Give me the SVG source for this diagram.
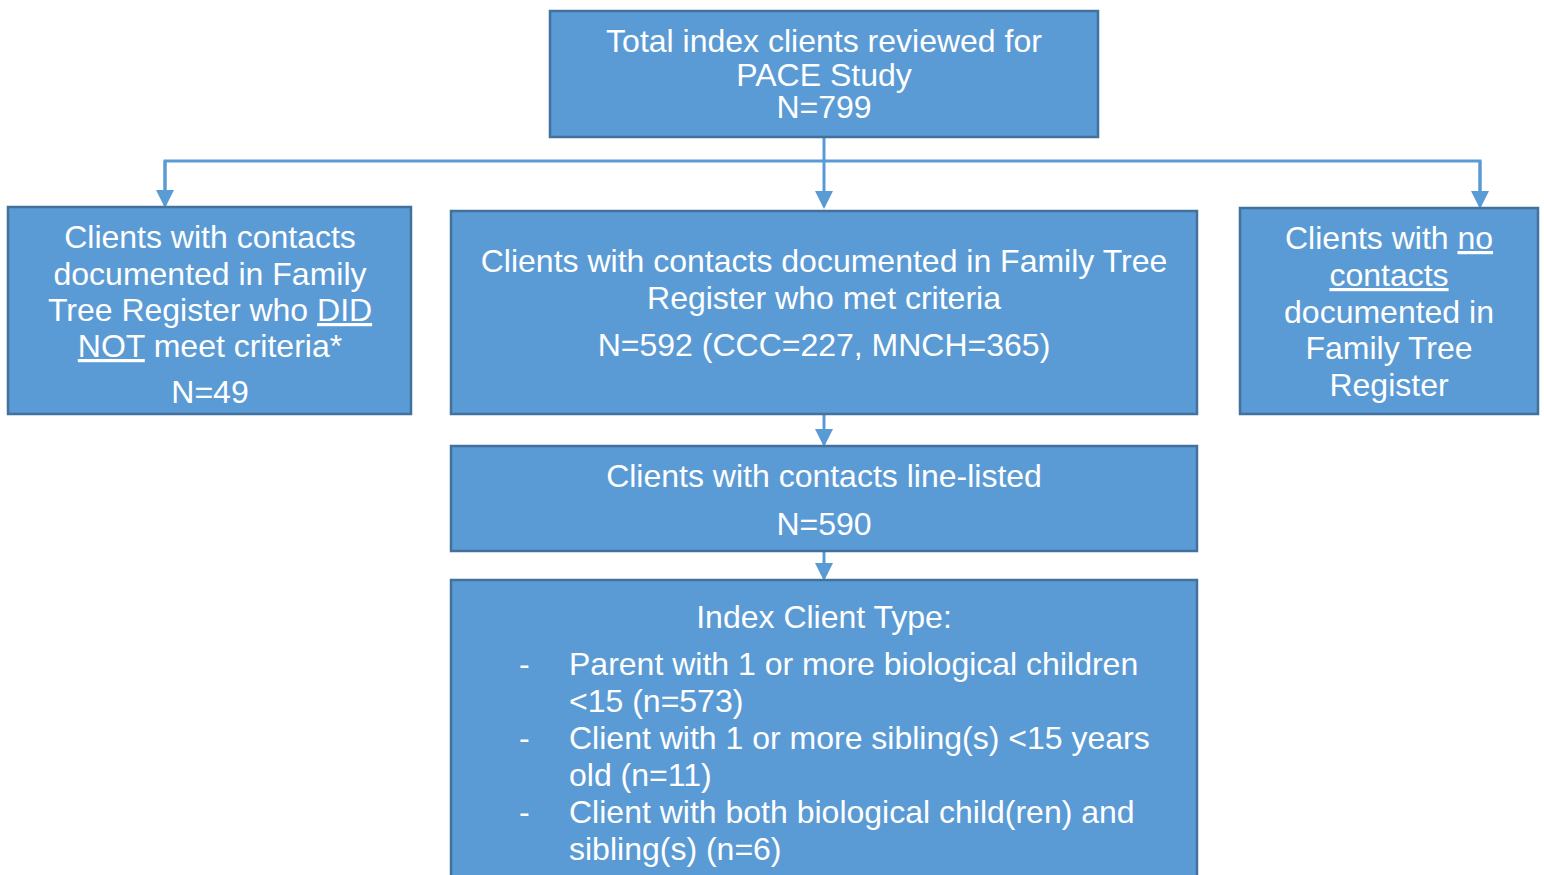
<svg xmlns="http://www.w3.org/2000/svg" width="1544" height="875" viewBox="0 0 1544 875">
<style>
.box{fill:#5B9BD5;stroke:#41719C;stroke-width:2.5}
.t{font-family:"Liberation Sans",Arial,sans-serif;font-size:32px;fill:#fff;text-anchor:middle}
.l{font-family:"Liberation Sans",Arial,sans-serif;font-size:32px;fill:#fff}
.c{fill:none;stroke:#5B9BD5;stroke-width:3}
.u{text-decoration:underline}
</style>
<defs>
<marker id="ah" markerWidth="6" markerHeight="6" refX="5" refY="3" orient="auto" markerUnits="strokeWidth">
<path d="M0,0 L6,3 L0,6 z" fill="#5B9BD5"/>
</marker>
</defs>
<rect width="1544" height="875" fill="#fff"/>
<g id="connectors">
<line class="c" x1="824" y1="137" x2="824" y2="206" marker-end="url(#ah)"/>
<polyline class="c" points="165,205 165,161 1480,161 1480,206"/>
<line class="c" x1="165" y1="161" x2="165" y2="205" marker-end="url(#ah)"/>
<line class="c" x1="1480" y1="161" x2="1480" y2="206" marker-end="url(#ah)"/>
<line class="c" x1="824" y1="414" x2="824" y2="444" marker-end="url(#ah)"/>
<line class="c" x1="824" y1="551" x2="824" y2="578" marker-end="url(#ah)"/>
</g>
<g id="top">
<rect class="box" x="550" y="11" width="548" height="126"/>
<text class="t" x="824" y="52">Total index clients reviewed for</text>
<text class="t" x="824" y="85.5">PACE Study</text>
<text class="t" x="824" y="118">N=799</text>
</g>
<g id="left">
<rect class="box" x="8" y="207" width="403" height="207"/>
<text class="t" x="210" y="248">Clients with contacts</text>
<text class="t" x="210" y="285">documented in Family</text>
<text class="t" x="210" y="321">Tree Register who <tspan class="u">DID</tspan></text>
<text class="t" x="210" y="357"><tspan class="u">NOT</tspan> meet criteria*</text>
<text class="t" x="210" y="403">N=49</text>
</g>
<g id="middle">
<rect class="box" x="451" y="211" width="746" height="203"/>
<text class="t" x="824" y="272">Clients with contacts documented in Family Tree</text>
<text class="t" x="824" y="309">Register who met criteria</text>
<text class="t" x="824" y="356">N=592 (CCC=227, MNCH=365)</text>
</g>
<g id="right">
<rect class="box" x="1240" y="208" width="298" height="206"/>
<text class="t" x="1389" y="249">Clients with <tspan class="u">no</tspan></text>
<text class="t" x="1389" y="286"><tspan class="u">contacts</tspan></text>
<text class="t" x="1389" y="323">documented in</text>
<text class="t" x="1389" y="359">Family Tree</text>
<text class="t" x="1389" y="396">Register</text>
</g>
<g id="linelisted">
<rect class="box" x="451" y="446" width="746" height="105"/>
<text class="t" x="824" y="487">Clients with contacts line-listed</text>
<text class="t" x="824" y="535">N=590</text>
</g>
<g id="bottom">
<rect class="box" x="451" y="580" width="746" height="300"/>
<text class="t" x="824" y="628">Index Client Type:</text>
<text class="l" x="519" y="675">-</text>
<text class="l" x="569" y="675">Parent with 1 or more biological children</text>
<text class="l" x="569" y="712">&lt;15 (n=573)</text>
<text class="l" x="519" y="749">-</text>
<text class="l" x="569" y="749">Client with 1 or more sibling(s) &lt;15 years</text>
<text class="l" x="569" y="786">old (n=11)</text>
<text class="l" x="519" y="823">-</text>
<text class="l" x="569" y="823">Client with both biological child(ren) and</text>
<text class="l" x="569" y="860">sibling(s) (n=6)</text>
</g>
</svg>
